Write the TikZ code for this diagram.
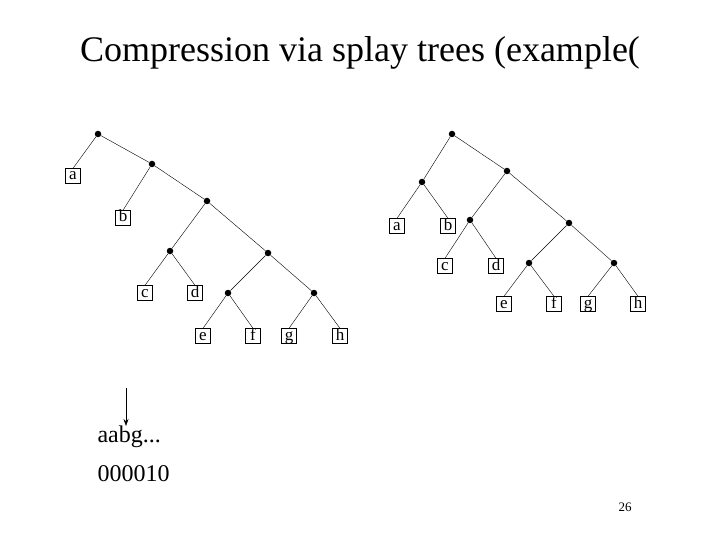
\documentclass[tikz,border=0pt]{standalone}
\usepackage{fontspec}
\setmainfont{Liberation Serif}
\usetikzlibrary{arrows.meta,positioning}

\begin{document}
\begin{tikzpicture}[
    x=1pt, y=-1pt,
    leaf/.style={draw, thin, inner sep=0pt, minimum width=15pt,
      minimum height=15pt, text height=11pt, text depth=3pt,
      font=\fontsize{17}{17}\selectfont},
    dot/.style={circle, fill=black, inner sep=0pt, minimum size=6.5pt},
    edge/.style={thin, black},
    arrow/.style={-{Stealth[length=7pt,width=5pt]}, semithick}
  ]
    \useasboundingbox (0,0) rectangle (720,540);

    % Title
    \node[font=\fontsize{36}{36}\selectfont] (title) at (360,53)
      {Compression via splay trees (example(};

    % Left tree: internal nodes
    \node[dot] (lr) at (98,134) {};
    \node[dot] (l1) at (152,164) {};
    \node[dot] (l2) at (207,201) {};
    \node[dot] (l3) at (170,251) {};
    \node[dot] (l4) at (268,253) {};
    \node[dot] (l5) at (228,293) {};
    \node[dot] (l6) at (314,293) {};

    % Left tree: leaves
    \node[leaf] (la) at (73,176) {a};
    \node[leaf] (lb) at (123,218) {b};
    \node[leaf] (lc) at (145,293) {c};
    \node[leaf] (ld) at (195,293) {d};
    \node[leaf] (le) at (203,336) {e};
    \node[leaf] (lf) at (253,336) {f};
    \node[leaf] (lg) at (289,336) {g};
    \node[leaf] (lh) at (340,336) {h};

    % Left tree: edges
    \draw[edge] (lr) -- (la.north);
    \draw[edge] (lr) -- (l1);
    \draw[edge] (l1) -- (lb.north);
    \draw[edge] (l1) -- (l2);
    \draw[edge] (l2) -- (l3);
    \draw[edge] (l2) -- (l4);
    \draw[edge] (l3) -- (lc.north);
    \draw[edge] (l3) -- (ld.north);
    \draw[edge] (l4) -- (l5);
    \draw[edge] (l4) -- (l6);
    \draw[edge] (l5) -- (le.north);
    \draw[edge] (l5) -- (lf.north);
    \draw[edge] (l6) -- (lg.north);
    \draw[edge] (l6) -- (lh.north);

    % Right tree: internal nodes
    \node[dot] (rr) at (452,134) {};
    \node[dot] (r1) at (422,182) {};
    \node[dot] (r2) at (507,171) {};
    \node[dot] (r3) at (470,220) {};
    \node[dot] (r4) at (569,223) {};
    \node[dot] (r5) at (529,263) {};
    \node[dot] (r6) at (614,263) {};

    % Right tree: leaves
    \node[leaf] (ra) at (397,226) {a};
    \node[leaf] (rb) at (448,226) {b};
    \node[leaf] (rc) at (445,266) {c};
    \node[leaf] (rd) at (496,266) {d};
    \node[leaf] (re) at (504,304) {e};
    \node[leaf] (rf) at (554,304) {f};
    \node[leaf] (rg) at (588,304) {g};
    \node[leaf] (rh) at (638,304) {h};

    % Right tree: edges
    \draw[edge] (rr) -- (r1);
    \draw[edge] (rr) -- (r2);
    \draw[edge] (r1) -- (ra.north);
    \draw[edge] (r1) -- (rb.north);
    \draw[edge] (r2) -- (r3);
    \draw[edge] (r2) -- (r4);
    \draw[edge] (r3) -- (rc.north);
    \draw[edge] (r3) -- (rd.north);
    \draw[edge] (r4) -- (r5);
    \draw[edge] (r4) -- (r6);
    \draw[edge] (r5) -- (re.north);
    \draw[edge] (r5) -- (rf.north);
    \draw[edge] (r6) -- (rg.north);
    \draw[edge] (r6) -- (rh.north);

    % Input and output
    \node[anchor=west, font=\fontsize{24}{24}\selectfont] (input) at (94,437) {aabg...};
    \node[anchor=west, font=\fontsize{24}{24}\selectfont] (output) at (94,474) {000010};
    \coordinate (ptr) at (126,388);
    \draw[arrow] (ptr) -- (126,426);

    % Page number
    \node[font=\fontsize{13}{13}\selectfont] (page) at (625,507) {26};
  \end{tikzpicture}
\end{document}
